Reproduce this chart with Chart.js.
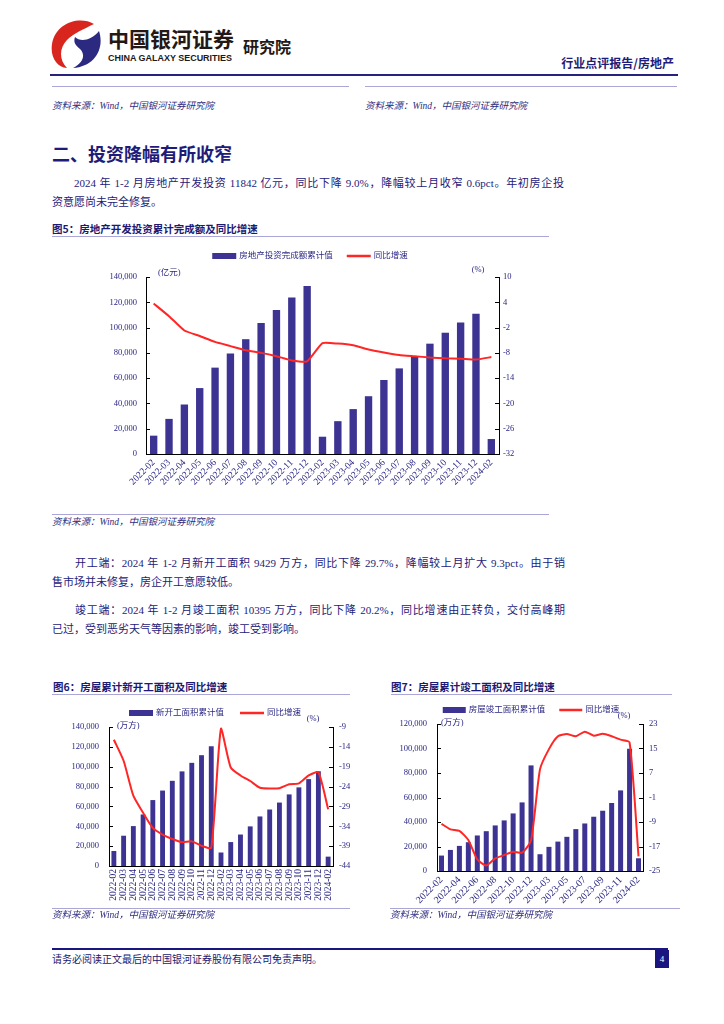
<!DOCTYPE html>
<html lang="zh-CN">
<head>
<meta charset="utf-8">
<title>行业点评报告/房地产</title>
<script src="https://cdn.jsdelivr.net/npm/chart.js@4.4.1/dist/chart.umd.min.js"></script>
<style>
  html, body { margin: 0; padding: 0; background: #fff; }
  body { width: 724px; height: 1024px; position: relative; overflow: hidden;
         font-family: "Liberation Serif", "Noto Sans CJK SC", serif; color: #24217a; }
  .abs { position: absolute; white-space: nowrap; }
  .rule { position: absolute; height: 0; border-top: 1px solid #aaa7d8; }
  .src { position: absolute; white-space: nowrap; font-size: 9.5px; line-height: 12px; font-style: italic; color: #2f2c80; }
  .fig { position: absolute; white-space: nowrap; font-size: 10.5px; line-height: 14px; font-weight: bold;
         font-family: "Noto Sans CJK SC", sans-serif; color: #1d1a74; }
  .p { position: absolute; white-space: nowrap; font-size: 11px; line-height: 14px; color: #24217a; }
  .just { text-align: justify; text-align-last: justify; white-space: normal; }
  .box { position: absolute; }
</style>
</head>
<body>

<!-- header -->
<svg class="abs" style="left:48px;top:18px" width="56" height="52" viewBox="0 0 56 52">
  <path d="M46 6 C32 -2 8 4 4 26 C2 39 9 49 19 50 C11 42 11 30 19 22 C26 15 36 11 46 6 Z" fill="#d8261f"/>
  <path d="M51 13 C57 31 46 49 25 50 C35 45 38 37 32 31 C28 27 25 25 27 19 C32 24 43 23 51 13 Z" fill="#2b2a80"/>
</svg>
<div class="abs" style="left:108px;top:27px;font:bold 21px/22px 'Noto Sans CJK SC';color:#231816">中国银河证券</div>
<svg class="abs" style="left:108px;top:51px" width="126" height="12">
  <text x="0" y="10" textLength="124" lengthAdjust="spacingAndGlyphs"
        style="font:bold 9.5px 'Liberation Sans',Arial;fill:#231816">CHINA GALAXY SECURITIES</text>
</svg>
<div class="abs" style="left:243px;top:37px;font:bold 16px/18px 'Noto Sans CJK SC';color:#231816">研究院</div>
<div class="abs" style="right:50px;top:56px;font:bold 12px/14px 'Noto Sans CJK SC';color:#1f1c7a">行业点评报告/房地产</div>
<div class="rule" style="left:50px;top:74px;width:628px;border-top:2px solid #27237d"></div>

<div class="rule" style="left:52px;top:86px;width:297px"></div>
<div class="rule" style="left:365px;top:86px;width:312px"></div>
<div class="src" style="left:52px;top:100px">资料来源：Wind，中国银河证券研究院</div>
<div class="src" style="left:365px;top:100px">资料来源：Wind，中国银河证券研究院</div>

<div class="abs" style="left:52px;top:142px;font:bold 18px/22px 'Noto Sans CJK SC';color:#1f1b78">二、投资降幅有所收窄</div>
<div class="p just" style="left:74px;top:176px;width:490px">2024 年 1-2 月房地产开发投资 11842 亿元，同比下降 9.0%，降幅较上月收窄 0.6pct。年初房企投</div>
<div class="p" style="left:52px;top:195px">资意愿尚未完全修复。</div>

<div class="fig" style="left:52px;top:222px">图5：房地产开发投资累计完成额及同比增速</div>
<div class="rule" style="left:52px;top:236px;width:497px"></div>
<div class="box" style="left:100px;top:245px;width:420px;height:255px"><canvas id="c5" width="420" height="255"></canvas></div>
<div class="rule" style="left:52px;top:514px;width:497px"></div>
<div class="src" style="left:52px;top:516px">资料来源：Wind，中国银河证券研究院</div>

<div class="p just" style="left:75px;top:556px;width:490px">开工端：2024 年 1-2 月新开工面积 9429 万方，同比下降 29.7%，降幅较上月扩大 9.3pct。由于销</div>
<div class="p" style="left:52px;top:575px">售市场并未修复，房企开工意愿较低。</div>
<div class="p just" style="left:75px;top:603px;width:490px">竣工端：2024 年 1-2 月竣工面积 10395 万方，同比下降 20.2%，同比增速由正转负，交付高峰期</div>
<div class="p" style="left:52px;top:622px">已过，受到恶劣天气等因素的影响，竣工受到影响。</div>

<div class="fig" style="left:53px;top:680px">图6：房屋累计新开工面积及同比增速</div>
<div class="rule" style="left:52px;top:694px;width:298px"></div>
<div class="fig" style="left:391px;top:680px">图7：房屋累计竣工面积及同比增速</div>
<div class="rule" style="left:391px;top:694px;width:281px"></div>
<div class="box" style="left:68px;top:700px;width:294px;height:205px"><canvas id="c6" width="294" height="205"></canvas></div>
<div class="box" style="left:398px;top:700px;width:268px;height:210px"><canvas id="c7" width="268" height="210"></canvas></div>
<div class="rule" style="left:52px;top:908px;width:298px"></div>
<div class="rule" style="left:390px;top:908px;width:290px"></div>
<div class="src" style="left:52px;top:909px">资料来源：Wind，中国银河证券研究院</div>
<div class="src" style="left:390px;top:909px">资料来源：Wind，中国银河证券研究院</div>

<!-- footer -->
<div class="rule" style="left:52px;top:948px;width:616px;border-top:2px solid #1a1680"></div>
<div class="abs" style="left:52px;top:952px;font:10px/14px 'Noto Sans CJK SC';color:#1a1870">请务必阅读正文最后的中国银河证券股份有限公司免责声明。</div>
<div class="abs" style="left:655px;top:950px;width:14px;height:18px;background:#1a1680;color:#fff;font:9px/18px 'Liberation Serif';text-align:center">4</div>

<script>
// ---- data ----
const months = [
  '2022-02', '2022-03', '2022-04', '2022-05', '2022-06', '2022-07', '2022-08', '2022-09', '2022-10', '2022-11', '2022-12',
  '2023-02', '2023-03', '2023-04', '2023-05', '2023-06', '2023-07', '2023-08', '2023-09', '2023-10', '2023-11', '2023-12',
  '2024-02'
];

// 图5 房地产开发投资累计完成额（亿元）及同比（%）
const investTotal = [14499, 27765, 39154, 52134, 68314, 79462, 90809, 103559, 113945, 123863, 132895,
                     13669, 25974, 35514, 45701, 58550, 67717, 76900, 87269, 95922, 104045, 110913,
                     11842];
const investYoY = [3.7, 0.7, -2.7, -4.0, -5.4, -6.4, -7.4, -8.0, -8.8, -9.8, -10.0,
                   -5.7, -5.8, -6.2, -7.2, -7.9, -8.5, -8.8, -9.1, -9.3, -9.4, -9.6,
                   -9.0];

// 图6 房屋新开工面积累计值（万方）及同比（%）
const startsTotal = [15100, 30500, 40200, 51900, 66400, 76000, 85800, 95300, 103900, 111600, 120600,
                     13600, 24100, 31700, 39900, 49900, 56900, 63900, 72100, 79200, 87500, 95400,
                     9429];
const startsYoY = [-12.2, -17.5, -26.3, -30.6, -34.4, -36.1, -37.2, -38.0, -37.8, -38.9, -39.4,
                   -9.4, -19.2, -21.2, -22.6, -24.3, -24.5, -24.4, -23.4, -23.2, -21.2, -20.4,
                   -29.7];

// 图7 房屋竣工面积累计值（万方）及同比（%）
const complTotal = [12600, 17200, 20500, 23500, 29000, 32500, 37200, 41300, 47000, 56000, 86200,
                    13700, 19700, 24000, 27900, 34200, 38800, 44300, 49200, 55500, 65800, 99800,
                    10395];
const complYoY = [-9.6, -11.4, -11.9, -14.9, -21.2, -23.2, -20.9, -19.8, -18.7, -19.0, -15.0,
                  8.2, 14.8, 19.0, 19.7, 19.0, 20.5, 19.2, 19.8, 19.0, 17.9, 17.0,
                  -20.2];

// ---- style ----
const BAR = '#3c3392';
const LINE = '#ff2626';
const TICK = '#2a2783';
const FONT = '"Liberation Serif", "Noto Sans CJK SC", serif';
Chart.defaults.font.family = FONT;
Chart.defaults.font.size = 8.5;
Chart.defaults.color = TICK;

// inward tick marks, unit captions and the legend row
const decor = {
  id: 'decor',
  afterDraw(chart, args, o) {
    const { ctx, chartArea: a } = chart;
    ctx.save();
    ctx.strokeStyle = '#000';
    ctx.lineWidth = 1;
    ['y', 'y1'].forEach(id => {
      const s = chart.scales[id];
      const x = id === 'y' ? a.left : a.right;
      const d = id === 'y' ? 4 : -4;
      s.ticks.forEach((t, i) => {
        const y = Math.round(s.getPixelForTick(i)) + 0.5;
        ctx.beginPath();
        ctx.moveTo(x, y);
        ctx.lineTo(x + d, y);
        ctx.stroke();
      });
    });

    ctx.font = '8.5px ' + FONT;
    ctx.fillStyle = TICK;
    ctx.textBaseline = 'middle';
    ctx.textAlign = 'left';
    ctx.fillText(o.unitL, a.left + o.unitLx, a.top + o.unitLy);
    ctx.textAlign = 'center';
    ctx.fillText('(%)', a.right + o.unitRx, a.top + o.unitRy);

    // legend
    ctx.textAlign = 'left';
    const ds = chart.data.datasets;
    const items = ds.map(d => ({ d, w: o.boxW + 3 + ctx.measureText(d.label).width }));
    const total = items.reduce((s, it) => s + it.w, 0) + o.itemGap * (items.length - 1);
    let x = o.legendX - total / 2;
    items.forEach(({ d, w }) => {
      if (d.type === 'line') {
        ctx.strokeStyle = d.borderColor;
        ctx.lineWidth = 2.5;
        ctx.beginPath();
        ctx.moveTo(x, o.legendY);
        ctx.lineTo(x + o.boxW, o.legendY);
        ctx.stroke();
      } else {
        ctx.fillStyle = d.backgroundColor;
        ctx.fillRect(x, o.legendY - 3, o.boxW, 6);
      }
      ctx.fillStyle = TICK;
      ctx.fillText(d.label, x + o.boxW + 3, o.legendY);
      x += w + o.itemGap;
    });
    ctx.restore();
  }
};

function makeChart(id, c) {
  return new Chart(document.getElementById(id), {
    type: 'bar',
    data: {
      labels: months,
      datasets: [
        { type: 'bar', label: c.barLabel, data: c.bars, yAxisID: 'y', order: 2,
          backgroundColor: BAR, barPercentage: c.barPct, categoryPercentage: 1 },
        { type: 'line', label: '同比增速', data: c.yoy, yAxisID: 'y1', order: 1,
          borderColor: LINE, backgroundColor: LINE, borderWidth: 2, pointRadius: 0, tension: c.tension }
      ]
    },
    plugins: [decor],
    options: {
      responsive: false,
      animation: false,
      layout: { padding: { top: c.padTop, left: 0, right: 0, bottom: 0 } },
      plugins: {
        legend: { display: false },
        tooltip: { enabled: false },
        decor: c.decor
      },
      scales: {
        x: {
          grid: { display: false, drawTicks: false },
          border: { display: true, color: '#000', width: 1 },
          ticks: {
            autoSkip: false, minRotation: c.rot, maxRotation: c.rot, padding: 3,
            font: { size: c.xFont },
            callback: function (v, i) { return i % c.every === 0 ? this.getLabelForValue(v) : ''; }
          },
          afterFit: s => { s.height = c.xH; }
        },
        y: {
          position: 'left', min: 0, max: c.yMax,
          grid: { display: false, drawTicks: false },
          border: { display: true, color: '#000', width: 1 },
          ticks: { stepSize: 20000, padding: c.lPad, callback: v => v.toLocaleString('en-US') },
          afterFit: s => { s.width = c.lW; }
        },
        y1: {
          position: 'right', min: c.rMin, max: c.rMax,
          grid: { display: false, drawTicks: false },
          border: { display: true, color: '#000', width: 1 },
          ticks: { stepSize: c.rStep, padding: c.rPad },
          afterFit: s => { s.width = c.rW; }
        }
      }
    }
  });
}

makeChart('c5', {
  barLabel: '房地产投资完成额累计值', bars: investTotal, yoy: investYoY,
  yMax: 140000, rMin: -32, rMax: 10, rStep: 6,
  lW: 46, rW: 21, xH: 46, padTop: 32, lPad: 9, rPad: 4,
  rot: 45, every: 1, xFont: 9.5, barPct: 0.48, tension: 0.15,
  decor: { unitL: '(亿元)', unitLx: 12, unitLy: -4, unitRx: -21, unitRy: -7,
           legendX: 210, legendY: 11, boxW: 24, itemGap: 14 }
});

makeChart('c6', {
  barLabel: '新开工面积累计值', bars: startsTotal, yoy: startsYoY,
  yMax: 140000, rMin: -44, rMax: -9, rStep: 5,
  lW: 41, rW: 29, xH: 39, padTop: 27, lPad: 10, rPad: 6,
  rot: 90, every: 1, xFont: 9.5, barPct: 0.5, tension: 0.2,
  decor: { unitL: '(万方)', unitLx: 8, unitLy: -1, unitRx: -20, unitRy: -8,
           legendX: 147, legendY: 13, boxW: 24, itemGap: 16 }
});

makeChart('c7', {
  barLabel: '房屋竣工面积累计值', bars: complTotal, yoy: complYoY,
  yMax: 120000, rMin: -25, rMax: 23, rStep: 8,
  lW: 39, rW: 23, xH: 39, padTop: 24, lPad: 10, rPad: 6,
  rot: 45, every: 2, xFont: 10, barPct: 0.56, tension: 0.2,
  decor: { unitL: '(万方)', unitLx: 4, unitLy: -1, unitRx: -19, unitRy: -8,
           legendX: 133, legendY: 10, boxW: 23, itemGap: 14 }
});
</script>
</body>
</html>
